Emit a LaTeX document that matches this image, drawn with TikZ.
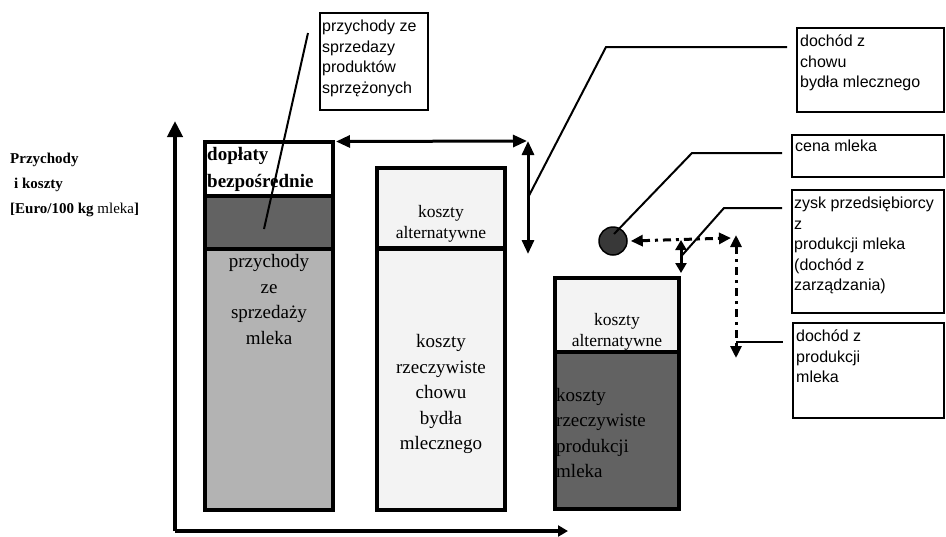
\documentclass[tikz,border=0pt]{standalone}
\usepackage{fontspec}
\setmainfont{Liberation Serif}
\newfontfamily\notefont{Liberation Sans}
\usetikzlibrary{arrows.meta,positioning,calc}
\definecolor{barlight}{HTML}{F3F3F3}
\definecolor{bargray}{HTML}{B3B3B3}
\definecolor{bardark}{HTML}{626262}

\begin{document}
\begin{tikzpicture}[x=1pt,y=-1pt,
  seg/.style={draw,line width=4pt,anchor=north west,inner sep=0pt,outer sep=0pt},
  bigtxt/.style={font=\fontsize{19}{25.5}\selectfont,align=center,inner sep=0pt},
  alttxt/.style={font=\fontsize{17.5}{21}\selectfont,align=center,inner sep=0pt},
  note/.style={draw,line width=2.5pt,anchor=north west,inner sep=0pt,outer sep=0pt},
  notetxt/.style={font=\notefont\fontsize{16}{20.5}\selectfont,align=left,inner sep=0pt},
  lead/.style={line width=2pt},
  dbl/.style={line width=3pt,{Triangle[length=14pt,width=12pt]}-{Triangle[length=14pt,width=12pt]}},
  dblsmall/.style={line width=3pt,{Triangle[length=10pt,width=11pt]}-{Triangle[length=10pt,width=11pt]}},
  dashdbl/.style={line width=3pt,dash pattern=on 8pt off 5pt on 3pt off 5pt,{Triangle[length=12pt,width=11pt]}-{Triangle[length=12pt,width=11pt]}}]
\useasboundingbox (0,0) rectangle (946,536);

% axes
\coordinate (o) at (175,531);
\draw[line width=4pt,-{Triangle[length=16pt,width=15pt]}] (o) -- (175,121);
\draw[line width=4pt,-{Triangle[length=10pt,width=11pt]}] (o) -- (568,531);
\node[font=\bfseries\fontsize{15}{25}\selectfont,align=left,anchor=north west,inner sep=0pt] (ylab) at (10,153)
  {Przychody\\\hspace{4pt}i koszty\\{}[Euro/100 kg {\mdseries mleka}]};

% bars
\node[seg,fill=white,minimum width=128pt,minimum height=54pt] (dop) at (205,141.5) {};
\node[seg,fill=bardark,minimum width=128pt,minimum height=53pt] (sprz) at (205,195.5) {};
\node[seg,fill=bargray,minimum width=128pt,minimum height=261pt] (mlk) at (205,248.5) {};
\node[seg,fill=barlight,minimum width=128pt,minimum height=80pt] (alt1) at (377,168) {};
\node[seg,fill=barlight,minimum width=128pt,minimum height=261pt] (rz1) at (377,248.5) {};
\node[seg,fill=barlight,minimum width=124pt,minimum height=74pt] (alt2) at (555,278) {};
\node[seg,fill=bardark,minimum width=124pt,minimum height=157pt] (rz2) at (555,352) {};

\node[font=\bfseries\fontsize{19}{27}\selectfont,align=left,inner sep=0pt,below right=6pt and 2pt of dop.north west] (doptxt) {dopłaty\\bezpośrednie};
\node[bigtxt,below=6pt of mlk.north] (mlktxt) {przychody\\ze\\sprzedaży\\mleka};
\node[alttxt,above=6pt of alt1.south] (alt1txt) {koszty\\alternatywne};
\node[bigtxt,below=86pt of rz1.north] (rz1txt) {koszty\\rzeczywiste\\chowu\\bydła\\mlecznego};
\node[alttxt,above=2pt of alt2.south] (alt2txt) {koszty\\alternatywne};
\node[bigtxt,align=left,below right=36pt and 1pt of rz2.north west] (rz2txt) {koszty\\rzeczywiste\\produkcji\\mleka};

% notes
\node[note,minimum width=108pt,minimum height=97pt] (ps) at (320,13) {};
\node[notetxt,below right=7pt and 2pt of ps.north west] (pstxt) {przychody ze\\sprzedazy\\produktów\\sprzężonych};
\node[note,minimum width=147pt,minimum height=84pt] (dch) at (797,28) {};
\node[notetxt,below right=7pt and 3pt of dch.north west] (dchtxt) {dochód z\\chowu\\bydła mlecznego};
\node[note,minimum width=152pt,minimum height=42pt] (cena) at (792,135) {};
\node[notetxt,below right=5pt and 3pt of cena.north west] (cenatxt) {cena mleka};
\node[note,minimum width=152pt,minimum height=123pt] (zysk) at (792,190) {};
\node[notetxt,below right=7pt and 2pt of zysk.north west] (zysktxt) {zysk przedsiębiorcy\\z\\produkcji mleka\\(dochód z\\zarządzania)};
\node[note,minimum width=151pt,minimum height=95pt] (dpm) at (793,323) {};
\node[notetxt,below right=7pt and 3pt of dpm.north west] (dpmtxt) {dochód z\\produkcji\\mleka};

% arrows and leaders
\coordinate (tr) at (528,141);
\coordinate (trb) at (528,254);
\draw[dbl] ([xshift=3pt]dop.north east) -- ([xshift=-1pt]tr);
\draw[dbl] (tr) -- (trb);
\draw[lead] ($(tr)!.5!(trb)$) -- (606,47) -- ($(dch.north west)+(-10,19)$);
\draw[lead] ($(sprz.center)+(-5,7)$) -- ($(ps.north west)+(-12,20)$);

\node[circle,draw,line width=1.5pt,fill=black!78,minimum size=28pt,inner sep=0pt] (price) at (613,241) {};
\draw[lead] ($(price.center)+(1,-7)$) -- (692,153) -- ($(cena.west)+(-10,-3)$);

\coordinate (za) at (681,240);
\coordinate (zb) at ([xshift=2pt,yshift=5pt]alt2.north east);
\draw[dblsmall] (za) -- (zb);
\draw[lead] ($(za)!.5!(zb)$) -- (724,208) -- ($(zysk.north west)+(-10,18)$);

\coordinate (dt) at (736,235);
\coordinate (db) at (736,358);
\draw[dashdbl] ([xshift=3pt]price.east) -- (731,238);
\draw[dashdbl] (dt) -- (db);
\draw[lead] (736,342) -- ($(dpm.north west)+(-10,19)$);
\end{tikzpicture}
\end{document}
